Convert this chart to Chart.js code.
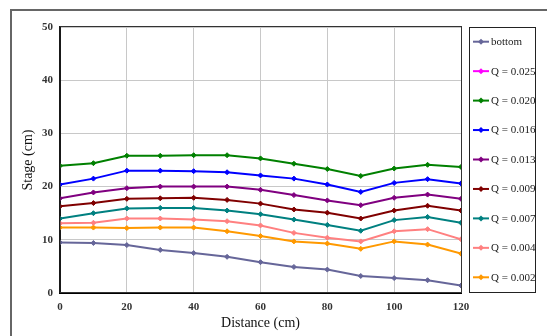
<!DOCTYPE html>
<html>
<head>
<meta charset="utf-8">
<script src="https://cdn.jsdelivr.net/npm/chart.js@4"></script>
<style>
    body { margin: 0; background: #fff; }
</style>
</head>
<body>
<canvas id="stage-chart" width="547" height="336"></canvas>
<script>
// distances along the channel (cm)
const distances = [0, 10, 20, 30, 40, 50, 60, 70, 80, 90, 100, 110, 120];

// stage values (cm)
const bottom = [9.5, 9.4, 9.0, 8.1, 7.5, 6.8, 5.8, 4.9, 4.4, 3.2, 2.8, 2.4, 1.4];
const q025 = [];
const q020 = [23.9, 24.4, 25.8, 25.8, 25.9, 25.9, 25.3, 24.3, 23.3, 22.0, 23.4, 24.1, 23.7];
const q016 = [20.4, 21.5, 23.0, 23.0, 22.9, 22.7, 22.1, 21.5, 20.4, 19.0, 20.7, 21.4, 20.6];
const q013 = [17.8, 18.9, 19.7, 20.0, 20.0, 20.0, 19.4, 18.4, 17.4, 16.5, 17.9, 18.5, 17.7];
const q009 = [16.3, 16.9, 17.7, 17.8, 17.9, 17.5, 16.8, 15.7, 15.1, 14.0, 15.5, 16.4, 15.5];
const q007 = [14.0, 15.0, 15.9, 16.0, 16.0, 15.5, 14.8, 13.8, 12.8, 11.7, 13.7, 14.3, 13.2];
const q004 = [13.1, 13.2, 14.0, 14.0, 13.8, 13.5, 12.7, 11.3, 10.4, 9.7, 11.6, 12.0, 10.1];
const q002 = [12.3, 12.3, 12.2, 12.3, 12.3, 11.6, 10.7, 9.7, 9.3, 8.3, 9.7, 9.1, 7.4];

const seriesLabels = ['bottom', 'Q = 0.025', 'Q = 0.020', 'Q = 0.016', 'Q = 0.013',
    'Q = 0.009', 'Q = 0.007', 'Q = 0.004', 'Q = 0.002'];
const seriesValues = [bottom, q025, q020, q016, q013, q009, q007, q004, q002];
const seriesColors = ['#666699', '#FF00FF', '#008000', '#0000FF', '#800080',
    '#800000', '#008080', '#FF8080', '#FF9900'];

const serif = "'Liberation Serif', 'Times New Roman', serif";

function toPoints(values) {
    return values.map((v, i) => ({x: distances[i], y: v}));
}

let datasets = seriesValues.map((values, i) => ({
    label: seriesLabels[i],
    data: toPoints(values),
    borderColor: seriesColors[i],
    backgroundColor: seriesColors[i],
    borderWidth: 2,
    pointStyle: 'rectRot',
    pointRadius: 2.5,
    pointBorderWidth: 1,
    tension: 0
}));

// outer frame, plot frame and the boxed legend
const framePlugin = {
    id: 'frame',
    beforeDraw(chart) {
        const ctx = chart.ctx;
        ctx.save();
        ctx.strokeStyle = '#666';
        ctx.lineWidth = 2;
        ctx.strokeRect(11, 10, 600, 400);
        ctx.restore();
    },
    afterDraw(chart) {
        const ctx = chart.ctx;
        const area = chart.chartArea;
        ctx.save();
        ctx.strokeStyle = '#333';
        ctx.lineWidth = 1;
        ctx.strokeRect(area.left, area.top - 0.5, area.right - area.left + 0.5, area.bottom - area.top);

        // legend box
        ctx.strokeStyle = '#222';
        ctx.strokeRect(469.5, 27.5, 66, 265);
        ctx.font = '11px ' + serif;
        ctx.textBaseline = 'middle';
        ctx.textAlign = 'left';
        chart.data.datasets.forEach((ds, i) => {
            let y = 41.7 + i * 29.45;
            ctx.strokeStyle = ds.borderColor;
            ctx.fillStyle = ds.borderColor;
            ctx.lineWidth = 2;
            ctx.beginPath();
            ctx.moveTo(473, y);
            ctx.lineTo(489, y);
            ctx.stroke();
            ctx.beginPath();
            ctx.moveTo(481, y - 3);
            ctx.lineTo(484, y);
            ctx.lineTo(481, y + 3);
            ctx.lineTo(478, y);
            ctx.closePath();
            ctx.fill();
            ctx.fillStyle = '#222';
            ctx.fillText(ds.label, 491, y + 0.5);
        });
        ctx.restore();
    }
};

new Chart(document.getElementById('stage-chart'), {
    type: 'line',
    data: {datasets},
    options: {
        responsive: false,
        animation: false,
        layout: {padding: {top: 27, right: 86, left: 0, bottom: 0}},
        plugins: {
            legend: {display: false},
            tooltip: {enabled: false}
        },
        scales: {
            x: {
                type: 'linear',
                min: 0,
                max: 120,
                afterFit(scale) { scale.height = 43; },
                ticks: {
                    stepSize: 20,
                    padding: 8,
                    color: '#333',
                    font: {family: serif, size: 11, weight: 'bold'}
                },
                grid: {color: '#c8c8c8', drawTicks: false},
                border: {color: '#000', width: 2},
                title: {
                    display: true,
                    text: 'Distance (cm)',
                    color: '#111',
                    padding: {bottom: 4},
                    font: {family: serif, size: 14}
                }
            },
            y: {
                min: 0,
                max: 50,
                afterFit(scale) { scale.width = 60; },
                ticks: {
                    stepSize: 10,
                    padding: 7,
                    color: '#333',
                    font: {family: serif, size: 11, weight: 'bold'}
                },
                grid: {color: '#c8c8c8', drawTicks: false},
                border: {color: '#000', width: 2},
                title: {
                    display: true,
                    text: 'Stage (cm)',
                    color: '#111',
                    padding: {top: 20},
                    font: {family: serif, size: 14}
                }
            }
        }
    },
    plugins: [framePlugin]
});
</script>
</body>
</html>
